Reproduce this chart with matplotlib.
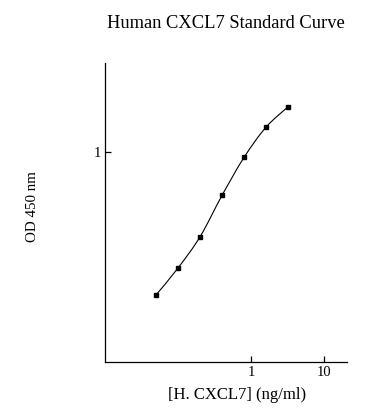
import matplotlib

matplotlib.use("Agg")
import matplotlib.pyplot as plt
import numpy as np
from matplotlib.patches import PathPatch
from matplotlib.path import Path
from matplotlib.ticker import FixedLocator, NullLocator

# Standard curve readings
conc = [0.05, 0.1, 0.2, 0.4, 0.8, 1.6, 3.2]  # ng/ml
od = [0.209, 0.281, 0.396, 0.624, 0.947, 1.32, 1.65]  # OD 450 nm

x_ticks = [1, 10]
x_tick_labels = ["1", "10"]
y_ticks = [1]
y_tick_labels = ["1"]

TITLE = "Human CXCL7 Standard Curve"
XLABEL = "[H. CXCL7] (ng/ml)"
YLABEL = "OD 450 nm"

plt.rcParams["font.family"] = ["Liberation Serif", "DejaVu Serif"]

W, H = 388, 420
fig = plt.figure(figsize=(W / 100, H / 100), dpi=100)
ax = fig.add_axes([105 / W, 58 / H, 242 / W, 299 / H])
ax.set_xscale("log")
ax.set_yscale("log")
ax.set_xlim(0.01, 20.5)
ax.set_ylim(0.1, 2.67)

# smooth curve through the points (Catmull-Rom in log-log space)
lx = np.log10(conc)
ly = np.log10(od)
pts = np.column_stack([lx, ly])
ext = np.vstack([pts[0], pts, pts[-1]])
verts = [pts[0]]
codes = [Path.MOVETO]
for i in range(len(pts) - 1):
    p0, p1, p2, p3 = ext[i], ext[i + 1], ext[i + 2], ext[i + 3]
    c1 = p1 + (p2 - p0) / 6
    c2 = p2 - (p3 - p1) / 6
    verts += [c1, c2, p2]
    codes += [Path.CURVE4] * 3
verts = 10 ** np.array(verts)
ax.add_patch(PathPatch(Path(verts, codes), fill=False, edgecolor="black", lw=0.8))

ax.plot(conc, od, linestyle="none", marker="s", markersize=3.5, color="black")

for side in ["top", "right"]:
    ax.spines[side].set_visible(False)
for side in ["left", "bottom"]:
    ax.spines[side].set_linewidth(0.9)

ax.xaxis.set_major_locator(FixedLocator(x_ticks))
ax.xaxis.set_minor_locator(NullLocator())
ax.set_xticklabels(x_tick_labels)
ax.yaxis.set_major_locator(FixedLocator(y_ticks))
ax.yaxis.set_minor_locator(NullLocator())
ax.set_yticklabels(y_tick_labels)
ax.tick_params(direction="in", length=4, width=0.9, labelsize=10.5)
ax.tick_params(axis="y", pad=2.5)
ax.tick_params(axis="x", pad=3)

fig.text(226 / W, 1 - 24 / H, TITLE, ha="center", va="center", fontsize=13.3)
fig.text(237 / W, 1 - 395 / H, XLABEL, ha="center", va="center", fontsize=12)
fig.text(32 / W, 1 - 207 / H, YLABEL, ha="center", va="center", rotation=90, fontsize=10.8)

fig.savefig("out.png", dpi=100)
